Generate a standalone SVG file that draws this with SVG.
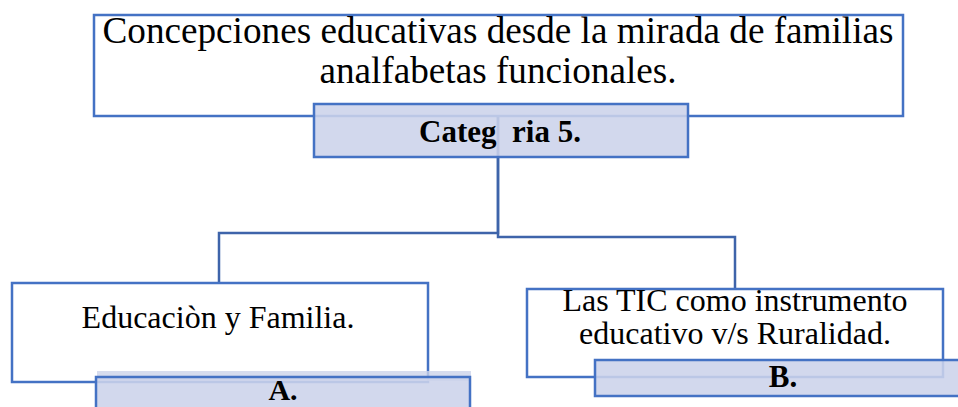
<svg xmlns="http://www.w3.org/2000/svg" width="958" height="407" viewBox="0 0 958 407">
<style>
.node{fill:#ffffff;stroke:#4472c4;stroke-width:2.5}
.lab{fill:#ccd3ea;fill-opacity:0.88;stroke:#4472c4;stroke-width:2.5}
.glow{fill:#ccd3ea;fill-opacity:0.8;stroke:none}
.conn{fill:none;stroke:#3e64aa;stroke-width:2.5}
.t{font-family:"Liberation Serif","Times New Roman",serif;fill:#000;text-anchor:middle}
.b{font-weight:bold}
</style>
<rect width="958" height="407" fill="#ffffff"/>
<g id="connectors">
<polyline class="conn" points="498,116 498,233 219,233 219,283"/>
<polyline class="conn" points="498,116 498,237 735,237 735,289"/>
</g>
<g id="node-top">
<rect class="node" x="94" y="15" width="809" height="101"/>
<text class="t" x="498" y="43" font-size="37.2">Concepciones educativas desde la mirada de familias</text>
<text class="t" x="498" y="83" font-size="37.2">analfabetas funcionales.</text>
</g>
<g id="label-categoria">
<rect class="lab" x="314" y="104" width="374" height="53"/>
<text class="t b" x="500" y="142" font-size="31" xml:space="preserve">Categ  ria 5.</text>
</g>
<g id="node-a">
<rect class="node" x="12" y="283" width="416" height="99"/>
<text class="t" x="218" y="328" font-size="32">Educaciòn y Familia.</text>
</g>
<g id="label-a">
<rect class="glow" x="97" y="371" width="374" height="10"/>
<rect class="lab" x="96" y="377" width="374" height="40"/>
<text class="t b" x="283" y="400" font-size="30">A.</text>
</g>
<g id="node-b">
<rect class="node" x="527" y="289" width="416" height="88"/>
<text class="t" x="735" y="311" font-size="32">Las TIC como instrumento</text>
<text class="t" x="735" y="344" font-size="32">educativo v/s Ruralidad.</text>
</g>
<g id="label-b">
<rect class="lab" x="595" y="360" width="380" height="36"/>
<text class="t b" x="783" y="387" font-size="31">B.</text>
</g>
</svg>
